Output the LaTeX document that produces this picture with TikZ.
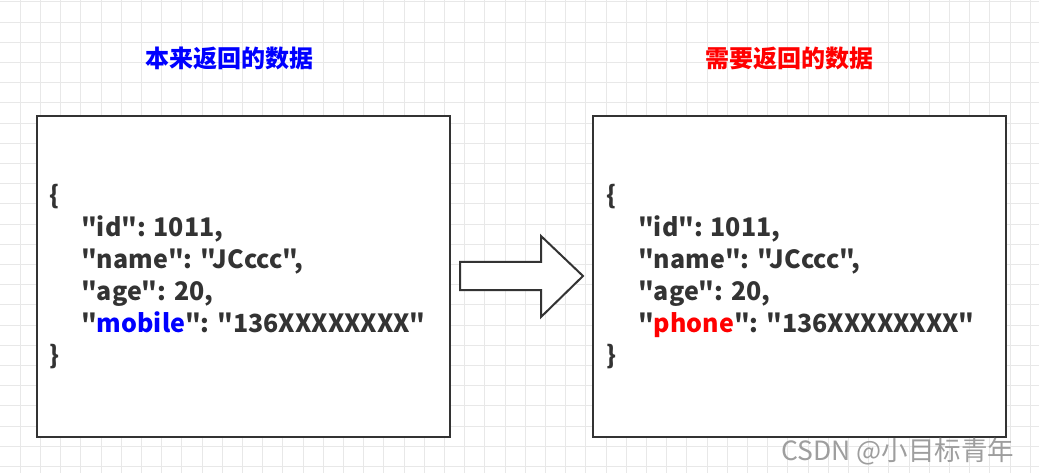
\documentclass[tikz,border=0pt]{standalone}
\usepackage{fontspec}
\setmainfont{Noto Sans CJK SC}
\usepackage{tikz}
\usetikzlibrary{arrows.meta, positioning, calc}

\definecolor{gridgray}{RGB}{232,232,232}
\definecolor{boxgray}{RGB}{51,51,51}
% plain font, no tex-text mapping, so " stays straight
\font\jsonbf="Noto Sans CJK SC/B" at 25pt

\begin{document}
\begin{tikzpicture}[x=1pt, y=-1pt, >=Stealth,
  gridline/.style={draw=gridgray, line width=0.8pt},
  databox/.style={draw=boxgray, fill=white, line width=2pt, anchor=north west,
    minimum width=413pt, minimum height=321pt, inner sep=0pt},
  title/.style={font=\fontsize{24}{24}\selectfont\bfseries, inner sep=0pt},
  jsontext/.style={font={\jsonbf\baselineskip=32pt}, text=boxgray,
    align=left, anchor=west, inner sep=0pt},
  bigarrow/.style={draw=boxgray, fill=white, line width=2pt, line join=miter}]
  \useasboundingbox (0,0) rectangle (1039,473);
  % Background grid
  \fill[white] (0,0) rectangle (1039,473);
  \foreach \i in {1,...,51}
    \draw[gridline] (20.2*\i,0) -- (20.2*\i,473);
  \foreach \j in {0,...,23}
    \draw[gridline] (0,1.8+20.2*\j) -- (1039,1.8+20.2*\j);
  % Titles
  \node[title, text=blue] (oldtitle) at (229,58) {本来返回的数据};
  \node[title, text=red] (newtitle) at (789,58) {需要返回的数据};
  % Boxes
  \node[databox] (oldbox) at (36,115) {};
  \node[databox] (newbox) at (592,115) {};
  % JSON contents
  \node[jsontext] (oldjson) at ([xshift=13pt]oldbox.west) {\{\\
    \hspace*{32pt}"id": 1011,\\
    \hspace*{32pt}"name": "JCccc",\\
    \hspace*{32pt}"age": 20,\\
    \hspace*{32pt}"\textcolor{blue}{mobile}": "136XXXXXXXX"\\
    \}};
  \node[jsontext] (newjson) at ([xshift=14pt]newbox.west) {\{\\
    \hspace*{32pt}"id": 1011,\\
    \hspace*{32pt}"name": "JCccc",\\
    \hspace*{32pt}"age": 20,\\
    \hspace*{32pt}"\textcolor{red}{phone}": "136XXXXXXXX"\\
    \}};
  % Hollow arrow between the boxes
  \draw[bigarrow] (460,262) -- (541,262) -- (541,236) -- (583,276)
    -- (541,317) -- (541,290) -- (460,290) -- cycle;
  % Watermark
  \node[font=\fontsize{26.5}{26.5}\selectfont, text=black!38, inner sep=0pt]
    (watermark) at (898,452) {CSDN @小目标青年};
\end{tikzpicture}
\end{document}
